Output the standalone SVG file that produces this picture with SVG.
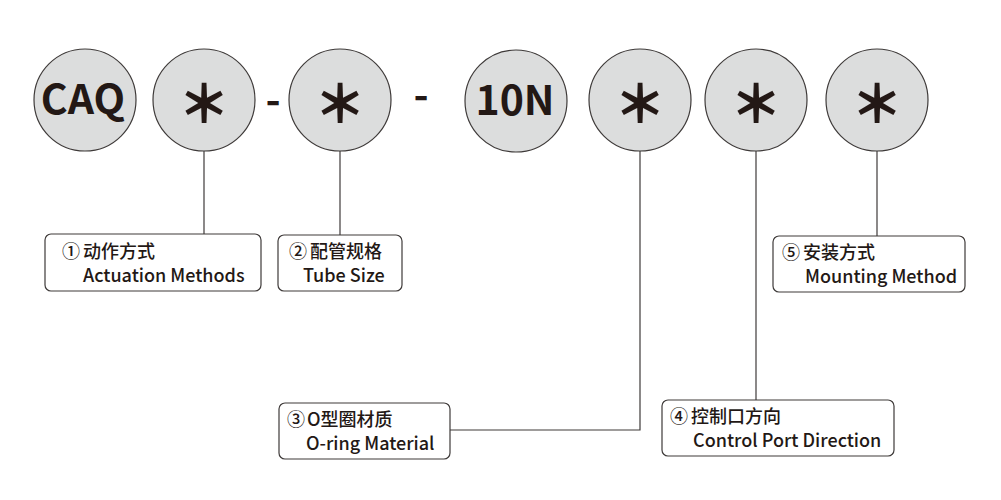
<svg xmlns="http://www.w3.org/2000/svg" width="1001" height="500" viewBox="0 0 1001 500">
<style>
.c{fill:#dcdddd;stroke:#3e3a39;stroke-width:1.2}
.big{font-family:"Noto Sans CJK SC","Noto Sans",sans-serif;font-weight:bold;font-size:41px;fill:#231815;text-anchor:middle}
.ast{font-family:"Noto Sans CJK SC",sans-serif;font-weight:900;font-size:52px;fill:#231815;text-anchor:middle}
.box{fill:#fff;stroke:#3e3a39;stroke-width:1.2}
.t{font-family:"Noto Sans CJK SC","Noto Sans",sans-serif;font-size:18px;font-weight:500;fill:#231815}
.e{font-family:"Noto Sans CJK SC","Noto Sans",sans-serif;font-size:18px;font-weight:500;fill:#231815}
.ln{fill:none;stroke:#3e3a39;stroke-width:1.2}
</style>
<rect width="1001" height="500" fill="#fff"/>
<g id="connectors">
<path class="ln" d="M204 151V234"/>
<path class="ln" d="M340 151V235"/>
<path class="ln" d="M640 151V430H450"/>
<path class="ln" d="M756 151V400"/>
<path class="ln" d="M877 151V236"/>
</g>
<g id="n-caq"><circle class="c" cx="85" cy="100" r="51"/><text class="big" x="83" y="114">CAQ</text></g>
<g id="n-a1"><circle class="c" cx="204" cy="100" r="51"/><text class="ast" x="204" y="123">＊</text></g>
<g id="dash1"><text class="big" x="273" y="115">-</text></g>
<g id="n-a2"><circle class="c" cx="340" cy="100" r="51"/><text class="ast" x="340" y="123">＊</text></g>
<g id="dash2"><text class="big" x="421" y="110">-</text></g>
<g id="n-10n"><circle class="c" cx="516" cy="101" r="51"/><text class="big" x="515" y="115">10N</text></g>
<g id="n-a3"><circle class="c" cx="640" cy="100" r="51"/><text class="ast" x="640" y="123">＊</text></g>
<g id="n-a4"><circle class="c" cx="756" cy="100" r="51"/><text class="ast" x="756" y="123">＊</text></g>
<g id="n-a5"><circle class="c" cx="877" cy="100" r="51"/><text class="ast" x="877" y="123">＊</text></g>
<g id="b1"><rect class="box" x="45" y="234" width="216" height="57" rx="6"/>
<text class="t" x="62" y="258">①<tspan dx="3">动作方式</tspan></text><text class="e" x="83" y="282">Actuation Methods</text></g>
<g id="b2"><rect class="box" x="278" y="235" width="124" height="56" rx="6"/>
<text class="t" x="289" y="258">②<tspan dx="3">配管规格</tspan></text><text class="e" x="303" y="282">Tube Size</text></g>
<g id="b3"><rect class="box" x="279" y="403" width="171" height="56" rx="6"/>
<text class="t" x="287" y="426">③<tspan dx="2">O型圈材质</tspan></text><text class="e" x="306" y="450">O-ring Material</text></g>
<g id="b4"><rect class="box" x="662" y="400" width="232" height="56" rx="6"/>
<text class="t" x="670" y="423">④<tspan dx="3">控制口方向</tspan></text><text class="e" x="693" y="447">Control Port Direction</text></g>
<g id="b5"><rect class="box" x="773" y="236" width="192" height="56" rx="6"/>
<text class="t" x="782" y="259">⑤<tspan dx="3">安装方式</tspan></text><text class="e" x="805" y="283">Mounting Method</text></g>
</svg>
